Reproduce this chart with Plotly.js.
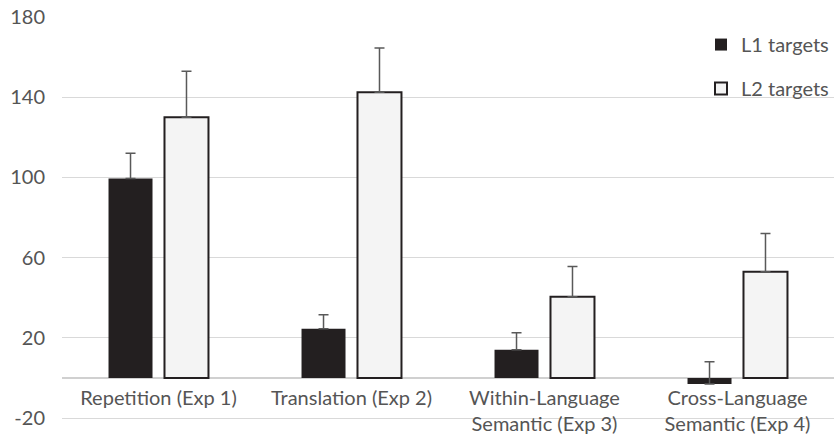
<!DOCTYPE html>
<html>
<head>
<meta charset="utf-8">
<script src="https://cdn.plot.ly/plotly-3.0.1.min.js"></script>
<style>html,body{margin:0;padding:0;background:#fff;}#chart{width:834px;height:448px;}</style>
</head>
<body>
<div id="chart"></div>
<script>
const categories = ["Repetition (Exp 1)", "Translation (Exp 2)", "Within-Language<br>Semantic (Exp 3)", "Cross-Language<br>Semantic (Exp 4)"];
const l1Values = [99.5, 24.5, 14, -3];
const l1ErrPlus = [12.5, 7, 8.5, 11];
const l2Values = [130, 142.5, 40.5, 53];
const l2ErrPlus = [23, 22, 15, 19];
const yTicks = [-20, 20, 60, 100, 140, 180];

const yMin = -21, yMax = 180;
const zeros = categories.map(() => 0);
const errStyle = {color: '#595959', thickness: 1.5, width: 5};

const traces = [
  {
    type: 'bar', name: 'L1 targets', x: categories, y: l1Values, legendgroup: 'a',
    marker: {color: '#231F20', line: {color: '#231F20', width: 0}},
    error_y: Object.assign({type: 'data', symmetric: false, array: l1ErrPlus, arrayminus: zeros}, errStyle),
    hoverinfo: 'none'
  },
  {
    type: 'bar', name: 'L2 targets', x: categories, y: l2Values, legendgroup: 'b',
    marker: {color: '#F4F4F4', line: {color: '#231F20', width: 2}},
    error_y: Object.assign({type: 'data', symmetric: false, array: l2ErrPlus, arrayminus: zeros}, errStyle),
    hoverinfo: 'none'
  }
];

const layout = {
  width: 834, height: 448,
  margin: {l: 62, r: 0, t: 17, b: 28, pad: 0},
  paper_bgcolor: '#ffffff', plot_bgcolor: '#ffffff',
  font: {family: 'Lato, "Open Sans", sans-serif', size: 20, color: '#555555'},
  barmode: 'group', bargap: 0.42, bargroupgap: 0.214,
  showlegend: true,
  legend: {
    x: 1, xanchor: 'right', y: 0.98, yanchor: 'top',
    traceorder: 'grouped', tracegroupgap: 15,
    font: {size: 20, color: '#555555'},
    bgcolor: 'rgba(255,255,255,0)', itemwidth: 30
  },
  xaxis: {
    type: 'category', anchor: 'free', position: (0 - yMin) / (yMax - yMin),
    showline: false, showgrid: false, zeroline: false, ticks: '',
    ticklabelstandoff: 6,
    tickfont: {size: 20, color: '#555555'}
  },
  yaxis: {
    range: [yMin, yMax], tickvals: yTicks, ticktext: yTicks.map(String),
    showgrid: true, gridcolor: '#D9D9D9', gridwidth: 1,
    zeroline: true, zerolinecolor: '#D0D0D0', zerolinewidth: 1.5,
    showline: false, ticks: '', ticklabelstandoff: 16,
    tickfont: {size: 20, color: '#555555'}
  }
};

Plotly.newPlot('chart', traces, layout, {displayModeBar: false, staticPlot: true});
</script>
</body>
</html>
